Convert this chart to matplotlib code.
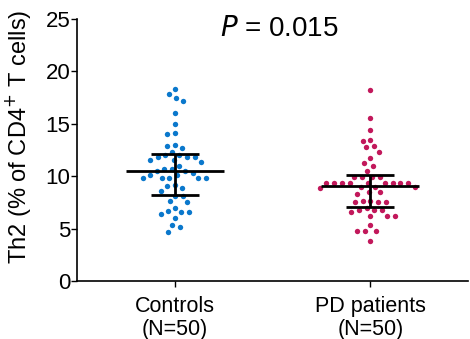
import numpy as np
import matplotlib
matplotlib.use('Agg')
import matplotlib.pyplot as plt

plt.rcParams['font.family'] = ['Liberation Sans', 'DejaVu Sans']

groups = ['Controls\n(N=50)', 'PD patients\n(N=50)']
colors = ['#0a78cc', '#c2185b']

controls = [18.3, 17.8, 17.5, 17.2, 16.0, 15.0, 14.1, 14.0, 12.9, 13.0,
            12.7, 12.3, 12.0, 12.0, 11.8, 11.8, 11.8, 11.5, 11.4, 11.5,
            11.0, 10.7, 10.7, 10.5, 10.5, 10.3, 10.1, 10.1, 9.85, 9.8,
            9.8, 9.8, 9.85, 9.2, 9.1, 8.9, 8.6, 8.15, 8.15, 7.6,
            7.55, 7.0, 6.6, 6.4, 6.55, 6.7, 6.0, 5.3, 5.2, 4.65]
pd_patients = [18.2, 15.6, 14.4, 13.5, 13.4, 12.85, 12.75, 12.3, 11.7, 11.3,
               11.0, 10.5, 9.95, 9.95, 9.95, 9.95, 9.35, 9.35, 9.35, 9.35,
               9.35, 9.35, 9.35, 9.35, 9.35, 9.0, 9.0, 9.0, 8.85, 8.45,
               8.45, 8.35, 7.6, 7.55, 7.5, 7.55, 7.6, 6.8, 6.6, 6.95,
               6.75, 6.8, 6.2, 6.2, 6.2, 5.3, 4.8, 4.75, 4.8, 3.85]

medians = [10.5, 9.05]
q1 = [8.2, 7.05]
q3 = [12.1, 10.15]
p_text = '$\\it{P}$ = 0.015'

fig = plt.figure(figsize=(4.7, 3.39), dpi=100)
ax = fig.add_axes([0.164, 0.171, 0.832, 0.773])
ax.set_xlim(-0.5, 1.5)
ax.set_ylim(0, 25)

# pixel scale for the swarm (data units -> px)
px_x = 0.832 * 470 / 2.0
px_y = 0.773 * 339 / 25.0
d = 7.8  # dot spacing in px


def swarm(vals):
    # simple greedy beeswarm, offsets in px
    order = np.argsort(vals)[::-1]
    placed = []
    offs = np.zeros(len(vals))
    for i in order:
        y = vals[i] * px_y
        cands = [0.0]
        near = [(px, py) for px, py in placed if abs(py - y) < d]
        for px, py in near:
            dx = np.sqrt(d ** 2 - (py - y) ** 2)
            cands += [px + dx, px - dx]
        cands.sort(key=lambda c: (abs(c), c))
        for c in cands:
            if all((c - px) ** 2 + (y - py) ** 2 >= d ** 2 - 1e-6 for px, py in near):
                offs[i] = c
                placed.append((c, y))
                break
    return offs / px_x


for k, vals in enumerate([controls, pd_patients]):
    vals = np.array(vals)
    xs = k + swarm(vals)
    ax.scatter(xs, vals, s=15, color=colors[k], linewidths=0, zorder=2)
    # median + interquartile range
    ax.hlines(medians[k], k - 0.25, k + 0.25, color='black', lw=2, zorder=3)
    ax.hlines([q1[k], q3[k]], k - 0.123, k + 0.123, color='black', lw=2, zorder=3)
    ax.vlines(k, q1[k], q3[k], color='black', lw=2, zorder=3)

ax.set_xticks([0, 1])
ax.set_xticklabels(groups, fontsize=15.5, linespacing=1.1)
ax.set_yticks([0, 5, 10, 15, 20, 25])
ax.tick_params(axis='y', labelsize=16, length=4, width=1, pad=1)
ax.tick_params(axis='x', length=4, width=1, pad=7)
ax.set_ylabel('Th2 (% of CD4$^{+}$ T cells)', fontsize=17)
ax.yaxis.set_label_coords(-0.113, 0.55)
for s in ['top', 'right']:
    ax.spines[s].set_visible(False)
for s in ['left', 'bottom']:
    ax.spines[s].set_linewidth(1.2)

fig.text(0.594, 0.915, p_text, fontsize=20, ha='center', va='center')

fig.savefig('out.png', dpi=100)
